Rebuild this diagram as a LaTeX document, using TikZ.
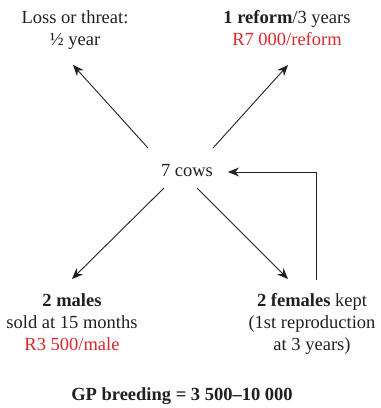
\documentclass[tikz,border=0pt]{standalone}
\usepackage{fontspec}
\setmainfont{Liberation Serif}
\usetikzlibrary{arrows.meta}
\definecolor{ink}{HTML}{231F20}
\definecolor{redtxt}{HTML}{D7282F}
\begin{document}
\begin{tikzpicture}[x=1pt,y=-1pt,
  txt/.style={font=\fontsize{18.5}{22}\selectfont, text=ink, align=center, inner sep=0pt, anchor=base},
  arr/.style={draw=ink, line width=0.9pt, -{Stealth[length=11pt,width=9pt]}}]
\useasboundingbox (0,0) rectangle (381,408);
\node[txt] (loss) at (75,45) {Loss or threat:\\ ½ year};
\node[txt] (reform) at (287,45) {\textbf{1 reform}/3 years\\ \textcolor{redtxt}{R7 000/reform}};
\node[txt] (cows) at (187,176) {7 cows};
\node[txt] (males) at (72,350) {\textbf{2 males}\\ sold at 15 months\\ \textcolor{redtxt}{R3 500/male}};
\node[txt] (females) at (312,350) {\textbf{2 females} kept\\ (1st reproduction\\ at 3 years)};
\node[txt] (gp) at (182,400) {\textbf{GP breeding = 3 500--10 000}};
\coordinate (ulS) at (148,148);
\coordinate (ulE) at (73,65);
\coordinate (urS) at (213,148);
\coordinate (urE) at (288,65);
\coordinate (llS) at (164,188);
\coordinate (llE) at (72,279);
\coordinate (lrS) at (197,188);
\coordinate (lrE) at (288,279);
\coordinate (fbS) at (316,280);
\coordinate (fbE) at (228,172);
\draw[arr] (ulS) -- (ulE);
\draw[arr] (urS) -- (urE);
\draw[arr] (llS) -- (llE);
\draw[arr] (lrS) -- (lrE);
\draw[arr] (fbS) |- (fbE);
\end{tikzpicture}
\end{document}
